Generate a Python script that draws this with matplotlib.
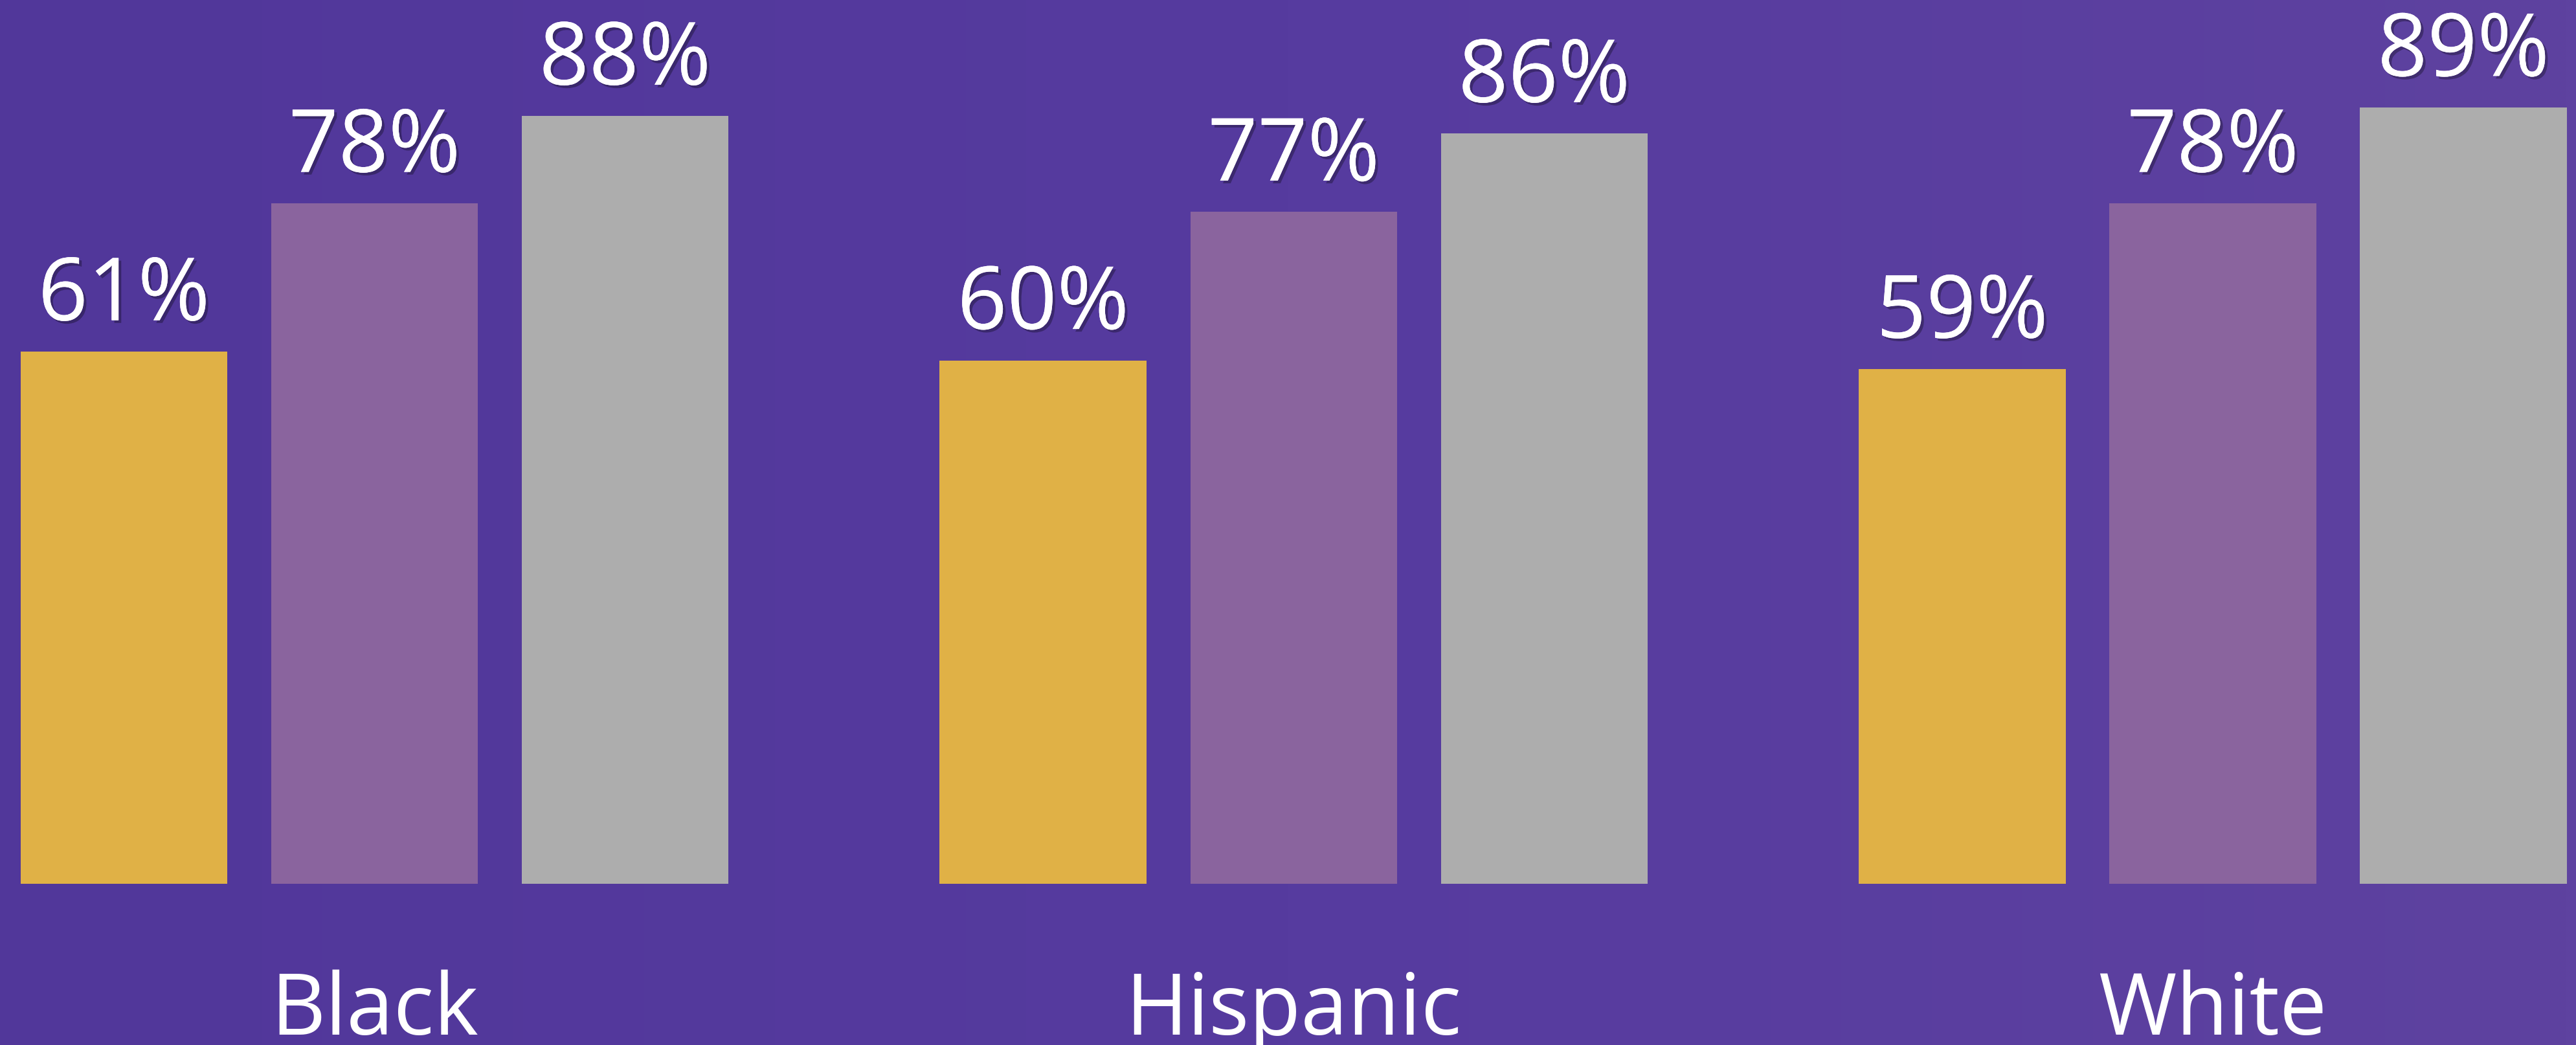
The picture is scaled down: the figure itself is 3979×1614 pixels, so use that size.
import matplotlib
matplotlib.use('Agg')
import matplotlib.pyplot as plt
import matplotlib.patheffects as pe
from matplotlib.colors import LinearSegmentedColormap
import numpy as np

GROUPS = ['Black', 'Hispanic', 'White']
SERIES_1 = [61, 60, 59]
SERIES_2 = [78, 77, 78]
SERIES_3 = [88, 86, 89]
COLORS = ['#e0b146', '#8a649e', '#adadad']
BG = '#553a9e'

def main():
    fig = plt.figure(figsize=[39.79, 16.14], dpi=100)
    fig.patch.set_facecolor(BG)
    ax = fig.add_axes([0, 0, 1, 1])
    ax.set_facecolor(BG)

    # soft left-to-right background shading
    bg_map = LinearSegmentedColormap.from_list('bg', ['#51379a', '#563b9f', '#5e42a0'])
    ax.imshow(np.linspace(0, 1, 256).reshape(1, -1), cmap=bg_map, aspect='auto',
              extent=[0, 1, 0, 1], transform=ax.transAxes, zorder=0)

    x = np.arange(len(GROUPS))
    width = 0.2252
    step = 0.2726
    shadow = [pe.withSimplePatchShadow(offset=(3, -3), shadow_rgbFace='black', alpha=0.3), pe.Normal()]

    for k, vals in enumerate([SERIES_1, SERIES_2, SERIES_3]):
        pos = x + (k - 1)*step
        ax.bar(pos, vals, width=width, color=COLORS[k], linewidth=0, zorder=2)
        for p, v in zip(pos, vals):
            ax.text(p, v + 3.6, '%d%%' % v, ha='center', va='baseline', zorder=3,
                    color='white', fontsize=97, family='Open Sans', path_effects=shadow)

    for i, g in enumerate(GROUPS):
        ax.text(x[i], -17.3, g, ha='center', va='baseline', color='white', zorder=3,
                fontsize=94, family='Open Sans')

    ax.set_xlim(-0.4075, 2.395)
    ax.set_ylim(-18.46, 101.3)
    ax.axis('off')

    fig.savefig('out.png', dpi=100, facecolor=BG)

if __name__=='__main__':
    main()
